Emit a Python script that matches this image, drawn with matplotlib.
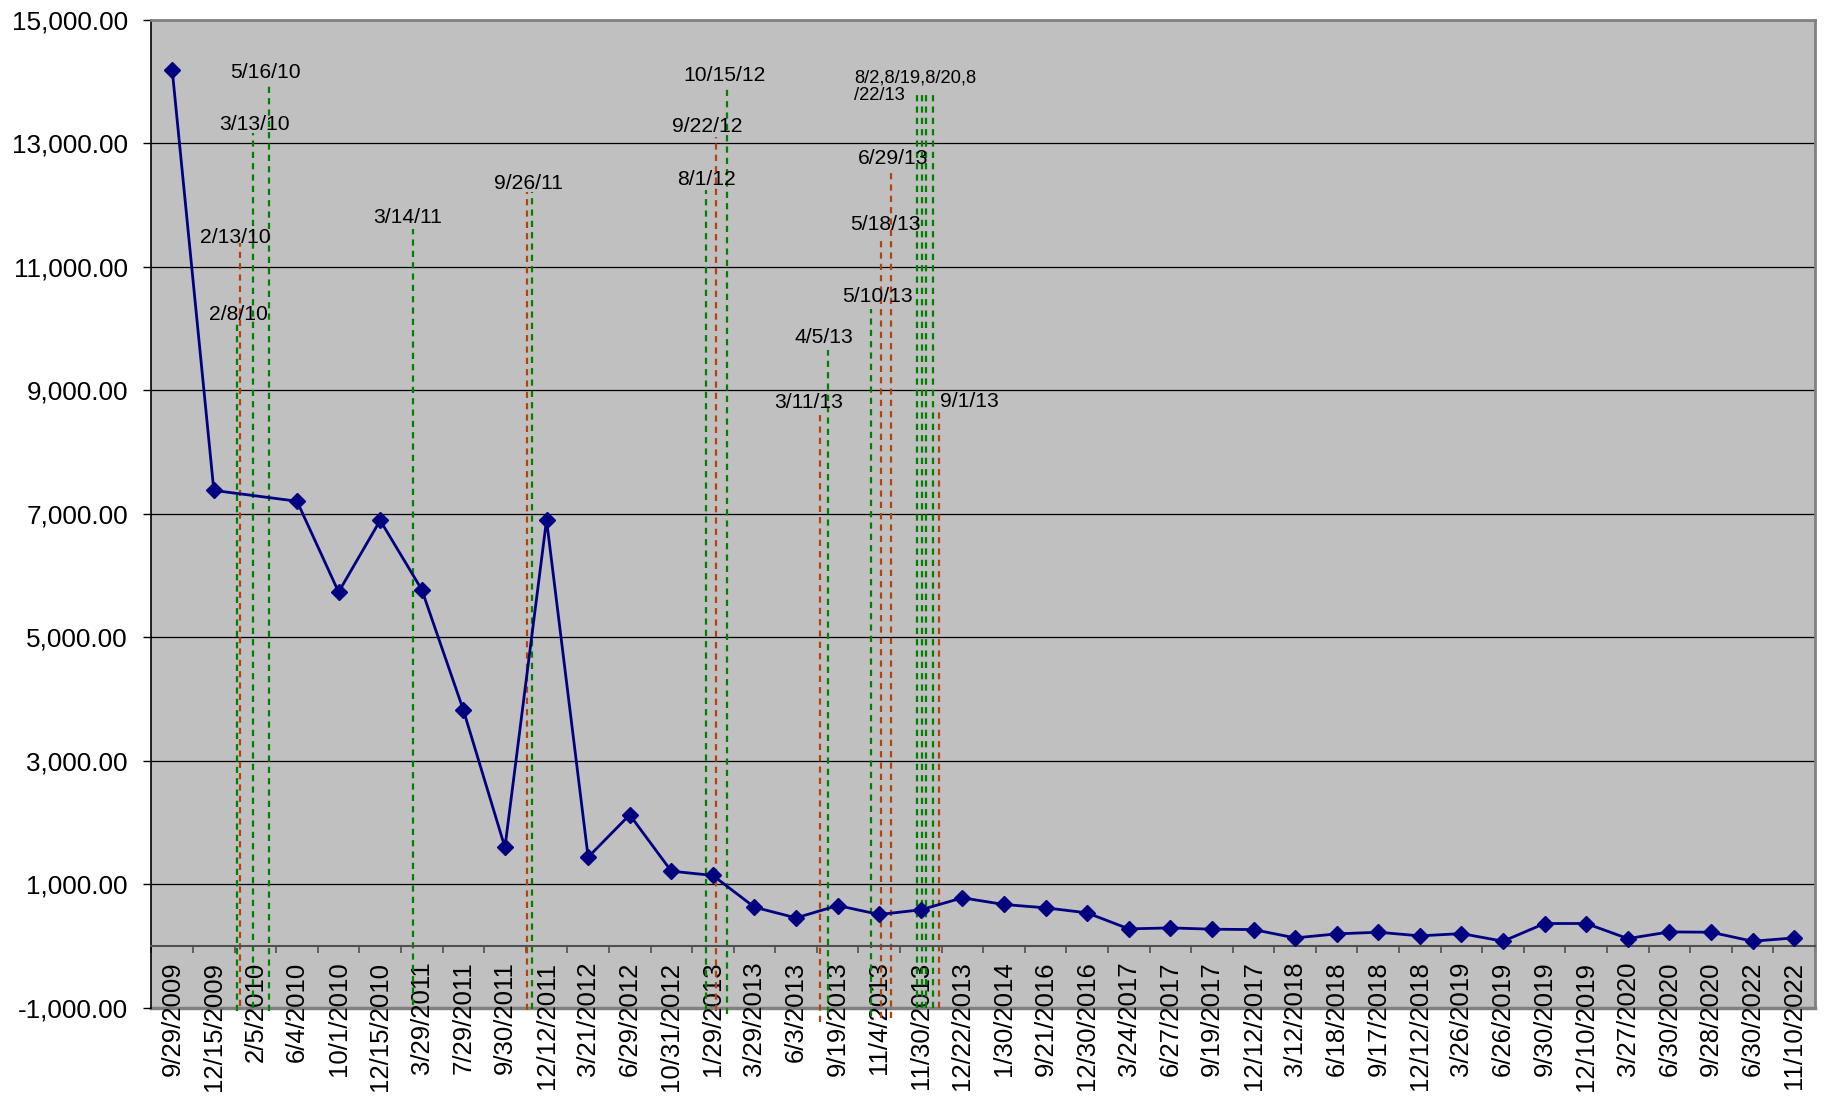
import numpy as np
import matplotlib.pyplot as plt

plt.rcParams['font.family'] = ['Liberation Sans', 'DejaVu Sans']

dates = ['9/29/2009', '12/15/2009', '2/5/2010', '6/4/2010', '10/1/2010', '12/15/2010',
         '3/29/2011', '7/29/2011', '9/30/2011', '12/12/2011', '3/21/2012', '6/29/2012',
         '10/31/2012', '1/29/2013', '3/29/2013', '6/3/2013', '9/19/2013', '11/4/2013',
         '11/30/2013', '12/22/2013', '1/30/2014', '9/21/2016', '12/30/2016', '3/24/2017',
         '6/27/2017', '9/19/2017', '12/12/2017', '3/12/2018', '6/18/2018', '9/17/2018',
         '12/12/2018', '3/26/2019', '6/26/2019', '9/30/2019', '12/10/2019', '3/27/2020',
         '6/30/2020', '9/28/2020', '6/30/2022', '11/10/2022']
values = [14180, 7380, np.nan, 7205, 5735, 6895, 5773, 3825, 1600, 6903,
          1443, 2128, 1216, 1146, 632, 459, 659, 514, 590, 784,
          676, 622, 540, 281, 297, 276, 270, 135, 200, 227,
          168, 205, 81, 368, 368, 124, 232, 227, 81, 135]

# event lines: position on the category axis, top and bottom value, kind
event_pos = [1.55, 1.64, 1.94, 2.33, 5.80, 8.52, 8.66, 12.83, 13.07, 13.34,
             15.57, 15.78, 16.80, 17.04, 17.28, 17.91, 18.03, 18.12, 18.29, 18.44]
event_top = [10100, 11380, 13160, 13980, 11610, 12210, 12210, 12240, 13100, 13940,
             8630, 9660, 10310, 11460, 12580, 13860, 13860, 13860, 13860, 8650]
event_bottom = [-1050, -975, -1000, -1050, -946, -1027, -1016, -1027, -1050, -1090,
                -1232, -1080, -1135, -1162, -1162, -1000, -1000, -1000, -1000, -1000]
event_kind = ['buy', 'sell', 'buy', 'buy', 'buy', 'sell', 'buy', 'buy', 'sell', 'buy',
              'sell', 'buy', 'buy', 'sell', 'sell', 'buy', 'buy', 'buy', 'buy', 'sell']

event_labels = ['2/8/10', '2/13/10', '3/13/10', '5/16/10', '3/14/11', '9/26/11',
                '8/1/12', '9/22/12', '10/15/12', '3/11/13', '4/5/13', '5/10/13',
                '5/18/13', '6/29/13', '9/1/13']
label_pos = [1.58, 1.52, 1.97, 2.25, 5.67, 8.56, 12.85, 12.86, 13.27, 15.29,
             15.68, 16.95, 17.14, 17.34, 19.16]
label_val = [10259, 11506, 13333, 14178, 11839, 12385, 12449, 13308, 14134, 8843,
             9896, 10548, 11716, 12783, 8853]
group_label = '8/2,8/19,8/20,8\n/22/13'

yticks = [-1000, 1000, 3000, 5000, 7000, 9000, 11000, 13000, 15000]
kind_colors = {'buy': '#008000', 'sell': '#B4420C'}

fig = plt.figure(figsize=(18.27, 10.99), dpi=100)
ax = fig.add_axes([0.0829, 0.0828, 0.9105, 0.8992])
ax.set_facecolor('#C0C0C0')
ax.set_xlim(-0.5, len(dates) - 0.5)
ax.set_ylim(-1000, 15000)

for y in yticks[1:-1]:
    ax.axhline(y, color='black', lw=0.9, zorder=1)
ax.axhline(-1000, color='#808080', lw=2.5, zorder=1, clip_on=False)

for x, top, bot, kind in zip(event_pos, event_top, event_bottom, event_kind):
    ax.plot([x, x], [bot, top], color=kind_colors[kind], lw=1.6,
            linestyle=(0, (2.8, 2.3)), zorder=2, clip_on=False)

for text, x, y in zip(event_labels, label_pos, label_val):
    ax.annotate(text, (x, y), xytext=(0, -0.36 * 15.2), textcoords='offset points',
                ha='center', va='baseline', fontsize=15.2, zorder=5)
ax.text(16.39, 13912, group_label, ha='left', va='center', fontsize=13.2,
        linespacing=1.0, zorder=5)

xs = np.arange(len(dates))
vals = np.array(values, dtype=float)
ok = ~np.isnan(vals)
ax.plot(xs[ok], vals[ok], color='#000080', lw=2, marker='D', ms=8,
        markeredgewidth=1, zorder=4)

# y axis
ax.set_yticks(yticks)
ax.set_yticklabels([f'{v:,.2f}' for v in yticks])
ax.tick_params(axis='y', length=6, width=1, color='black', pad=11, labelsize=18.8)

# category axis crosses at zero, tick marks between categories
ax.spines['bottom'].set_position(('data', 0))
ax.spines['bottom'].set_color('#505050')
ax.spines['bottom'].set_linewidth(1.5)
ax.set_xticks(xs)
ax.set_xticklabels(dates, rotation=90)
ax.set_xticks(np.arange(-0.5, len(dates)), minor=True)
ax.tick_params(axis='x', which='major', length=0, pad=11, labelsize=18.5)
ax.tick_params(axis='x', which='minor', length=5, width=1.2, color='#505050')

ax.spines['left'].set_color('black')
ax.spines['left'].set_linewidth(1.2)
for side in ('top', 'right'):
    ax.spines[side].set_color('#808080')
    ax.spines[side].set_linewidth(2)

fig.savefig('out.png', dpi=100)
